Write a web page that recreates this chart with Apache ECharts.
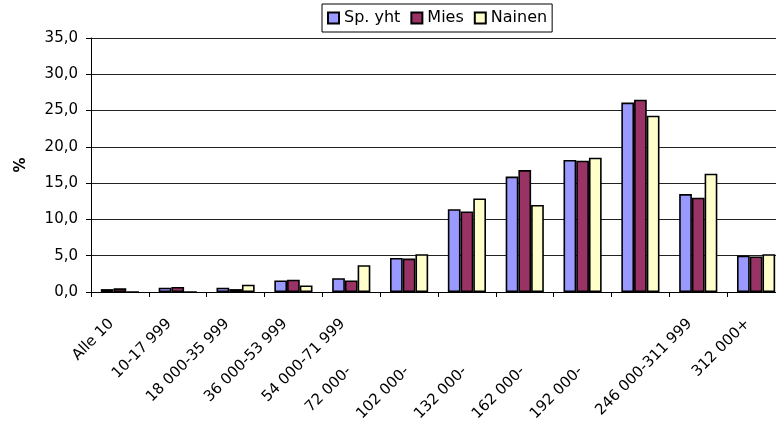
<!DOCTYPE html>
<html>
<head>
<meta charset="utf-8">
<script src="https://cdn.jsdelivr.net/npm/echarts@6/dist/echarts.min.js"></script>
<style>
html,body{margin:0;padding:0;background:#fff;overflow:hidden;}
#chart{width:776px;height:421px;}
</style>
</head>
<body>
<div id="chart"></div>
<script>
var categories = ['Alle 10', '10-17 999', '18 000-35 999', '36 000-53 999', '54 000-71 999',
  '72 000-', '102 000-', '132 000-', '162 000-', '192 000-', '246 000-311 999', '312 000+'];
var shiftedLabels = ['72 000-', '102 000-', '132 000-', '162 000-', '192 000-'];
var seriesNames = ['Sp. yht', 'Mies', 'Nainen'];
var spYht = [0.4, 0.6, 0.6, 1.6, 1.9, 4.7, 11.4, 15.9, 18.2, 26.1, 13.5, 5.0];
var mies = [0.5, 0.7, 0.4, 1.7, 1.6, 4.6, 11.1, 16.8, 18.1, 26.5, 13.0, 4.9];
var nainen = [0.0, 0.0, 1.0, 0.9, 3.7, 5.2, 12.9, 12.0, 18.5, 24.3, 16.3, 5.2];
var yTicks = [0, 5, 10, 15, 20, 25, 30, 35];

var colors = ['#9999FF', '#993366', '#FFFFCC'];
var font = 'DejaVu Sans, Liberation Sans, Arial, sans-serif';

var chart = echarts.init(document.getElementById('chart'), null, {renderer: 'canvas'});
function mk(name, data, i) {
  return {
    name: name, type: 'bar', data: data,
    barGap: '0%', barCategoryGap: '34%',
    itemStyle: {color: colors[i], borderColor: '#000', borderWidth: 1.6},
    emphasis: {disabled: true},
    animation: false
  };
}
chart.setOption({
  animation: false,
  textStyle: {fontFamily: font},
  legend: {
    data: seriesNames,
    left: 322, top: 4,
    padding: [6, 5, 6, 5],
    itemGap: 10,
    itemWidth: 11, itemHeight: 11,
    icon: 'rect',
    borderColor: '#000', borderWidth: 1,
    backgroundColor: '#fff',
    textStyle: {fontSize: 16, color: '#000', fontFamily: font}
  },
  grid: {left: 91, top: 38, width: 694, height: 254, containLabel: false, outerBoundsMode: 'none'},
  xAxis: {
    type: 'category',
    data: categories,
    axisLine: {lineStyle: {color: '#000', width: 1}},
    axisTick: {show: true, length: 5, lineStyle: {color: '#000'}},
    axisLabel: {
      interval: 0, rotate: 45, margin: 21,
      fontSize: 15, color: '#000', fontFamily: font,
      formatter: function (v) {
        return shiftedLabels.indexOf(v) >= 0 ? '{s|' + v + '}' : '{n|' + v + '}';
      },
      rich: {
        n: {fontSize: 15, fontFamily: font, color: '#000', padding: [0, 12, 0, 0]},
        s: {fontSize: 15, fontFamily: font, color: '#000', padding: [0, 82, 6, 0]}
      }
    }
  },
  yAxis: {
    type: 'value', min: yTicks[0], max: yTicks[yTicks.length - 1], interval: 5,
    name: '%', nameLocation: 'middle', nameGap: 62, nameRotate: 90,
    nameTextStyle: {fontSize: 15, fontWeight: 'bold', color: '#000', fontFamily: font},
    axisLine: {show: true, lineStyle: {color: '#000', width: 1}},
    axisTick: {show: true, length: 5, lineStyle: {color: '#000'}},
    axisLabel: {
      margin: 13, fontSize: 15, color: '#000', fontFamily: font,
      formatter: function (v) { return v.toFixed(1).replace('.', ','); }
    },
    splitLine: {show: true, lineStyle: {color: '#222', width: 1}}
  },
  series: [mk(seriesNames[0], spYht, 0), mk(seriesNames[1], mies, 1), mk(seriesNames[2], nainen, 2)]
});
</script>
</body>
</html>
